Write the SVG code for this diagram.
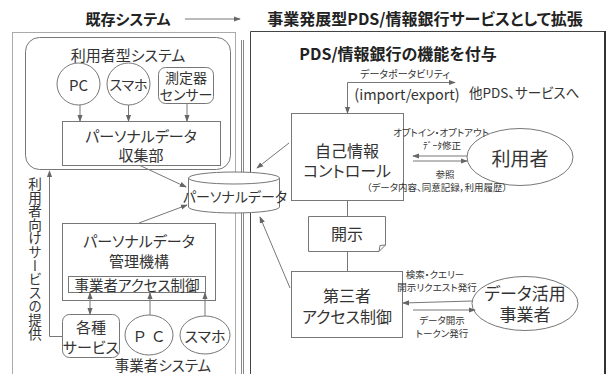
<svg xmlns="http://www.w3.org/2000/svg" width="609" height="374" viewBox="0 0 609 374">
<defs>
<style>
text{font-family:"Noto Sans CJK JP","Noto Sans",sans-serif;fill:#333;text-anchor:middle;dominant-baseline:central;font-feature-settings:"palt"}
.t{font-weight:bold;font-size:15px;fill:#222}
.m{font-size:15px}
.l{font-size:16px}
.s{font-size:9.5px}
.b{fill:#fff;stroke:#777;stroke-width:1}
.c{fill:none;stroke:#777;stroke-width:1}
.a{fill:none;stroke:#777;stroke-width:1;marker-end:url(#ah)}
</style>
<marker id="ah" viewBox="0 0 8 8" refX="7" refY="4" markerWidth="7" markerHeight="7" markerUnits="userSpaceOnUse" orient="auto-start-reverse">
<path d="M0,1 L8,4 L0,7 z" fill="#666"/>
</marker>
</defs>
<rect width="609" height="374" fill="#fff"/>

<g id="header">
<text class="t" x="128" y="18">既存システム</text>
<line x1="185" y1="19" x2="240" y2="19" class="a"/>
<text class="t" x="425" y="18" style="font-size:16px">事業発展型PDS/情報銀行サービスとして拡張</text>
</g>

<g id="frames">
<rect x="12.5" y="32.5" width="223" height="350" fill="none" stroke="#aaa"/>
<line x1="241.5" y1="40" x2="241.5" y2="374" stroke="#888"/>
<line x1="243.5" y1="40" x2="243.5" y2="374" stroke="#888"/>
<path d="M250.5,374 V31.5 H604.5 V374" fill="none" stroke="#444"/>
<line x1="605" y1="31" x2="605" y2="374" stroke="#333" stroke-width="2"/>
</g>

<g id="user-system">
<rect x="25.5" y="37.5" width="205" height="132" rx="14" class="b"/>
<text class="m" x="128" y="54">利用者型システム</text>
</g>
<g id="pc1"><ellipse cx="78.5" cy="84" rx="21.5" ry="21" class="b"/><text class="m" x="78.5" y="84">PC</text></g>
<g id="sumaho1"><ellipse cx="128.5" cy="84" rx="21.5" ry="21" class="b"/><text x="128.5" y="84" style="font-size:14px">スマホ</text></g>
<g id="sensor"><rect x="158.5" y="67.5" width="55" height="36" rx="7" class="b"/><text x="186" y="77" style="font-size:14px">測定器</text><text x="186" y="94" style="font-size:14px">センサー</text></g>
<g id="collector"><rect x="62.5" y="121.5" width="158" height="44" class="b"/><text class="m" x="141" y="135">パーソナルデータ</text><text class="m" x="141" y="154">収集部</text></g>

<g id="pdata"><path d="M188.5,178 V207 A45.5,6 0 0 0 279.5,207 V178" class="b"/><ellipse cx="234" cy="178" rx="45.5" ry="6" class="b"/><text x="235" y="196" style="font-size:14px">パーソナルデータ</text></g>

<g id="mgmt"><rect x="62.5" y="223.5" width="153" height="77" class="b"/><text class="m" x="139" y="240">パーソナルデータ</text><text class="m" x="139" y="260">管理機構</text>
<rect x="68.5" y="276.5" width="137" height="16" class="b"/><text x="137" y="284.5" style="font-size:14.5px">事業者アクセス制御</text></g>
<g id="services"><rect x="62.5" y="314.5" width="57" height="43" rx="7" class="b"/><text class="m" x="91" y="326">各種</text><text class="m" x="91" y="346">サービス</text></g>
<g id="pc2"><ellipse cx="149" cy="335" rx="24" ry="20" class="b"/><text class="m" x="149" y="335" style="font-feature-settings:normal">Ｐ Ｃ</text></g>
<g id="sumaho2"><ellipse cx="205" cy="335" rx="25" ry="19" class="b"/><text class="m" x="205" y="335">スマホ</text></g>
<text x="163" y="364.5" style="font-size:14.5px">事業者システム</text>
<text x="35" y="177" style="writing-mode:vertical-rl;text-anchor:start;font-size:13.6px;font-feature-settings:normal">利用者向けサービスの提供</text>

<g id="right-title"><text x="398" y="53" style="font-weight:bold;font-size:16px;fill:#222">PDS/情報銀行の機能を付与</text></g>

<g id="self-control"><rect x="291.5" y="113.5" width="112" height="87" class="b"/><text class="l" x="347" y="150">自己情報</text><text class="l" x="347" y="170">コントロール</text></g>
<g id="kaiji"><path d="M308.5,216.5 H385.5 V245 L379,251.5 H308.5 Z" class="b"/><path d="M385.5,245 L380,245.5 L379,251.5" class="c"/><text class="l" x="347" y="233">開示</text></g>
<g id="third"><rect x="291.5" y="271.5" width="111" height="66" class="b"/><text class="l" x="347" y="295">第三者</text><text class="l" x="347" y="316">アクセス制御</text></g>
<g id="riyousha"><ellipse cx="520" cy="157" rx="53" ry="28.5" class="b"/><text x="520" y="157" style="font-size:19px">利用者</text></g>
<g id="katsuyo"><ellipse cx="525" cy="303.5" rx="53" ry="27" class="b"/><text x="525" y="292.5" style="font-size:17px">データ活用</text><text x="525" y="313.5" style="font-size:17px">事業者</text></g>

<g id="connectors">
<line x1="80" y1="105" x2="80" y2="121" class="a"/>
<line x1="128.5" y1="105" x2="128.5" y2="121" class="a"/>
<line x1="187" y1="104" x2="187" y2="121" class="a"/>
<line x1="140" y1="165.5" x2="186" y2="187" class="a"/>
<line x1="139" y1="223" x2="187" y2="205" class="a"/>
<line x1="90" y1="293" x2="90" y2="314" class="a" style="marker-start:url(#ah)"/>
<line x1="150" y1="315" x2="150" y2="293" class="a"/>
<line x1="205" y1="316" x2="205" y2="293" class="a"/>
<polyline points="62,336.5 49.5,336.5 49.5,171" class="a"/>
<polyline points="347.5,113 347.5,82.5 455,82.5" class="a" style="marker-start:url(#ah)"/>
<line x1="289" y1="143" x2="257" y2="168" class="a"/>
<line x1="290" y1="288" x2="260" y2="217" class="a"/>
<line x1="347.5" y1="201" x2="347.5" y2="216" class="c"/>
<line x1="347.5" y1="251" x2="347.5" y2="271" class="c"/>
<line x1="467" y1="156" x2="413" y2="156" class="a"/>
<line x1="413" y1="161" x2="467" y2="161" class="a"/>
<line x1="472" y1="301" x2="403" y2="303" class="a"/>
<line x1="413" y1="310" x2="475" y2="310" class="a"/>
</g>

<g id="labels">
<text class="s" x="405" y="73" style="font-size:10px">データポータビリティ</text>
<text x="407" y="93" style="font-size:14.5px">(import/export)</text>
<text x="469" y="92" style="font-size:13.5px;text-anchor:start">他PDS、サービスへ</text>
<text class="s" x="441" y="132">オプトイン・オプトアウト</text>
<text class="s" x="442" y="145">ﾃﾞｰﾀ修正</text>
<text class="s" x="445" y="173.5">参照</text>
<text class="s" x="437" y="186.5">（データ内容、同意記録，利用履歴）</text>
<text class="s" x="435" y="274">検索・クエリー</text>
<text class="s" x="437" y="287">開示リクエスト発行</text>
<text class="s" x="442" y="320">データ開示</text>
<text class="s" x="442" y="333">トークン発行</text>
</g>
</svg>
